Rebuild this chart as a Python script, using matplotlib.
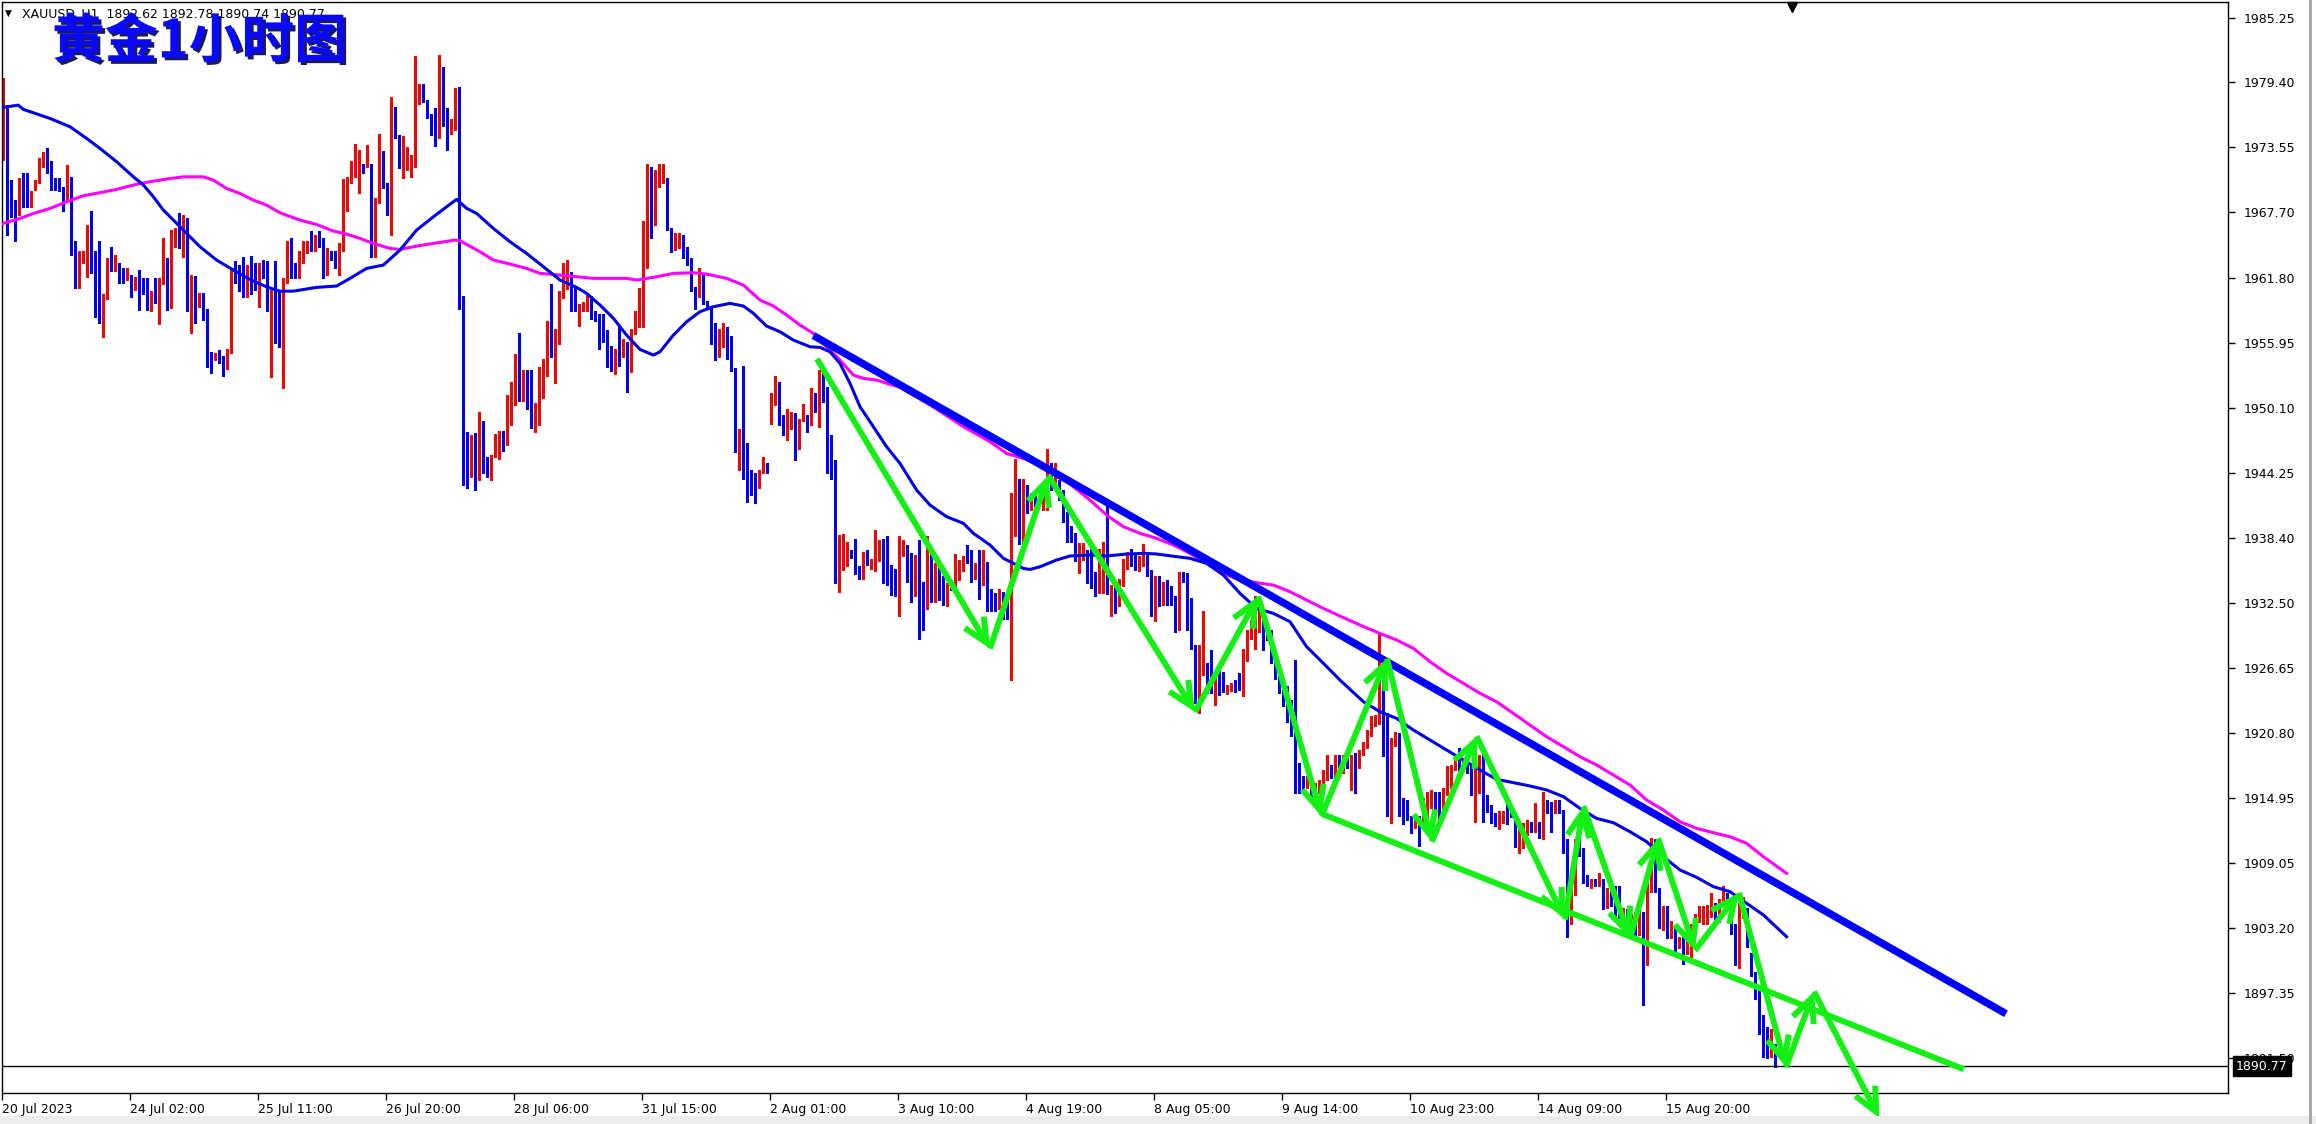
import matplotlib
matplotlib.use("Agg")
import matplotlib.pyplot as plt
import numpy as np
from matplotlib.patches import FancyArrowPatch, ArrowStyle, Rectangle
import matplotlib.patheffects as pe

# ---------------- data (XAUUSD H1) ----------------
opens = [
1972.6,1977.1,1970.3,1968.7,1967.6,1970.3,1969.4,1968.4,1969.7,1970.4,
1972.0,1972.8,1972.0,1970.7,1970.0,1969.7,1969.0,1970.4,1964.9,1961.2,
1963.4,1963.6,1965.4,1962.9,1961.2,1959.5,1960.0,1963.3,1962.5,1962.9,
1962.3,1961.7,1961.8,1960.9,1961.5,1961.2,1960.4,1959.9,1960.3,1959.7,
1961.3,1963.0,1959.2,1965.1,1965.3,1964.8,1967.2,1959.2,1961.2,1959.4,
1959.6,1958.9,1954.7,1954.5,1954.9,1954.8,1954.2,1955.1,1962.5,1962.1,
1961.4,1960.3,1962.4,1962.0,1960.9,1962.7,1961.9,1958.9,1960.6,1960.6,
1956.6,1961.5,1964.1,1962.1,1961.9,1963.3,1964.1,1964.8,1964.3,1965.1,
1964.7,1963.5,1963.8,1963.7,1962.9,1964.2,1969.3,1970.3,1970.9,1971.2,
1971.8,1971.8,1972.0,1966.4,1968.7,1972.1,1970.2,1969.2,1977.1,1974.5,
1971.5,1971.7,1971.8,1972.0,1977.6,1978.9,1977.8,1976.5,1975.4,1974.5,
1979.7,1975.7,1975.1,1975.9,1978.8,1960.0,1945.4,1944.7,1947.0,1944.3,
1948.8,1945.5,1944.4,1946.6,1946.9,1947.6,1947.0,1950.9,1952.1,1954.2,
1951.8,1952.7,1951.3,1949.6,1949.6,1951.9,1953.0,1956.6,1955.6,1955.9,
1960.1,1960.9,1961.3,1959.6,1958.9,1959.0,1958.8,1960.0,1958.2,1958.2,
1956.7,1956.7,1954.7,1954.4,1955.1,1954.8,1955.8,1953.4,1956.8,1958.3,
1959.0,1965.3,1971.4,1967.1,1970.4,1970.6,1970.7,1966.3,1964.4,1965.4,
1965.6,1963.8,1963.3,1960.9,1960.5,1962.1,1959.5,1959.0,1957.6,1955.4,
1955.7,1956.9,1956.0,1953.6,1946.9,1948.7,1946.7,1944.4,1943.4,1943.0,
1944.3,1944.6,1949.9,1951.2,1952.3,1949.4,1947.5,1948.4,1949.4,1946.5,
1949.0,1949.3,1948.5,1950.7,1949.6,1953.2,1950.9,1945.7,1945.2,1935.8,
1935.8,1935.9,1936.9,1936.8,1935.6,1934.8,1936.6,1935.8,1935.8,1936.4,
1937.6,1937.6,1935.4,1935.4,1933.7,1936.7,1937.6,1935.9,1934.1,1934.9,
1932.8,1932.1,1934.7,1932.8,1935.5,1934.6,1933.0,1934.0,1934.0,1935.2,
1935.5,1936.5,1936.4,1934.9,1935.2,1934.2,1936.1,1932.8,1932.7,1932.2,
1933.4,1933.1,1932.0,1938.6,1943.1,1938.6,1942.4,1941.5,1941.9,1941.2,
1941.0,1941.0,1943.9,1942.9,1943.4,1942.7,1940.6,1939.1,1938.6,1936.4,
1936.6,1937.0,1936.1,1935.2,1934.9,1935.9,1937.8,1933.4,1934.0,1932.3,
1934.1,1935.8,1936.7,1936.4,1935.9,1935.9,1936.7,1935.5,1931.3,1934.8,
1932.8,1934.3,1933.8,1932.9,1930.1,1934.8,1934.7,1930.5,1928.6,1925.1,
1926.2,1927.0,1925.9,1925.3,1925.4,1925.1,1924.4,1924.8,1925.4,1925.4,
1924.8,1927.4,1929.4,1930.1,1930.1,1931.7,1930.1,1929.8,1928.0,1925.9,
1925.0,1924.7,1922.0,1920.8,1917.2,1916.6,1916.0,1916.3,1915.2,1915.7,
1916.3,1916.7,1917.8,1916.9,1917.8,1917.3,1918.5,1916.6,1918.2,1917.8,
1919.0,1919.6,1920.5,1921.5,1921.7,1925.9,1922.4,1914.8,1919.9,1920.3,
1914.8,1914.8,1913.1,1912.4,1913.1,1912.4,1914.3,1914.2,1914.5,1913.6,
1913.3,1915.4,1916.0,1917.6,1918.8,1918.1,1917.8,1917.6,1915.8,1917.6,
1919.0,1914.2,1914.2,1913.3,1913.1,1913.3,1913.7,1913.6,1913.3,1910.7,
1911.2,1911.7,1912.5,1912.1,1912.7,1911.8,1914.3,1914.2,1913.7,1914.3,
1913.7,1910.3,1904.7,1906.4,1911.2,1910.3,1907.7,1907.1,1907.4,1907.1,
1907.4,1905.2,1907.0,1906.4,1904.9,1902.7,1904.5,1903.0,1903.3,1902.7,
1904.5,1903.3,1906.7,1910.0,1906.7,1903.3,1904.2,1902.4,1903.3,1901.5,
1902.1,1901.1,1902.6,1903.3,1903.9,1903.8,1903.8,1904.4,1904.9,1903.9,
1905.5,1906.1,1905.2,1903.3,1900.6,1904.2,1904.5,1900.3,1899.1,1897.3,
1895.2,1893.4,1892.5,1892.62]

highs = [
1979.8,1977.4,1970.6,1968.8,1970.8,1971.2,1971.2,1969.6,1970.6,1972.6,
1973.1,1973.5,1972.3,1970.8,1970.8,1970.0,1972.0,1970.9,1965.1,1964.2,
1964.2,1966.6,1967.8,1964.2,1965.1,1960.3,1963.6,1964.6,1963.9,1963.1,
1962.7,1962.7,1962.1,1961.9,1962.5,1961.8,1961.8,1960.6,1961.8,1961.8,
1965.4,1963.6,1966.1,1966.3,1967.6,1967.5,1967.2,1962.1,1962.0,1960.4,
1960.4,1959.0,1955.1,1955.0,1955.3,1954.8,1955.4,1962.7,1963.3,1963.0,
1963.7,1963.0,1963.8,1963.1,1963.1,1963.4,1963.3,1960.7,1963.3,1960.7,
1961.8,1965.1,1965.4,1963.1,1964.2,1965.1,1965.1,1966.0,1965.7,1966.0,
1965.4,1964.5,1964.2,1964.2,1964.9,1970.7,1970.9,1972.3,1973.9,1973.3,
1972.1,1973.8,1972.1,1969.0,1974.8,1973.2,1970.3,1978.1,1977.2,1974.7,
1974.6,1973.6,1972.9,1981.8,1979.3,1979.3,1977.8,1976.6,1977.1,1981.9,
1980.8,1977.1,1976.1,1978.9,1979.0,1960.2,1947.9,1947.6,1947.8,1949.7,
1948.9,1945.7,1945.8,1947.7,1948.0,1948.0,1951.2,1952.4,1954.9,1956.8,
1953.5,1953.5,1953.5,1950.5,1953.8,1954.5,1957.9,1961.2,1957.2,1960.6,
1963.1,1963.4,1962.3,1960.9,1959.4,1959.6,1960.4,1960.2,1958.8,1958.5,
1958.5,1957.1,1955.7,1955.4,1957.4,1956.3,1956.0,1957.2,1958.8,1960.9,
1966.9,1972.1,1971.8,1971.5,1972.1,1972.1,1970.8,1966.3,1965.8,1965.8,
1965.7,1964.6,1963.6,1961.0,1962.7,1962.1,1959.7,1959.1,1957.7,1957.2,
1957.7,1957.4,1956.6,1953.7,1948.2,1953.9,1946.9,1944.5,1944.2,1944.5,
1945.7,1945.1,1951.4,1953.0,1952.4,1949.4,1950.0,1949.7,1949.6,1949.1,
1950.4,1949.4,1951.9,1951.4,1953.5,1953.5,1952.0,1947.6,1945.4,1938.6,
1938.7,1938.0,1937.3,1938.3,1935.8,1937.1,1937.3,1936.5,1939.1,1938.2,
1938.3,1938.5,1935.9,1935.6,1938.5,1938.2,1937.7,1937.0,1936.8,1938.2,
1934.4,1938.5,1937.3,1936.1,1935.8,1934.9,1934.3,1934.6,1936.9,1936.4,
1936.7,1937.7,1937.3,1936.1,1937.3,1937.3,1936.2,1933.8,1933.4,1933.8,
1933.5,1933.1,1942.4,1945.5,1943.7,1943.7,1943.1,1942.4,1942.1,1942.1,
1942.8,1946.4,1945.1,1945.1,1943.6,1942.7,1940.7,1939.4,1938.8,1937.9,
1937.9,1937.3,1937.7,1935.3,1937.4,1938.0,1941.2,1934.1,1934.1,1934.7,
1936.5,1937.1,1937.4,1937.0,1936.7,1937.8,1936.8,1935.5,1934.9,1934.9,
1934.4,1934.6,1934.0,1933.1,1935.3,1935.3,1935.2,1933.0,1928.7,1928.7,
1931.8,1927.1,1928.3,1926.2,1926.5,1926.3,1925.1,1925.3,1925.6,1926.2,
1928.4,1930.1,1931.0,1933.1,1932.8,1932.0,1930.7,1930.1,1928.1,1926.0,
1925.3,1925.0,1923.8,1927.4,1918.1,1916.9,1916.9,1916.6,1916.3,1916.6,
1917.5,1918.8,1917.9,1918.8,1918.8,1918.8,1918.7,1918.8,1919.0,1919.3,
1920.0,1921.1,1922.3,1922.4,1929.9,1926.8,1922.6,1920.3,1920.9,1920.8,
1914.9,1914.8,1913.3,1913.3,1913.3,1914.9,1915.5,1915.7,1915.5,1915.5,
1915.8,1917.8,1917.9,1918.8,1919.4,1918.4,1917.9,1917.8,1917.8,1918.8,
1919.1,1915.2,1914.3,1913.6,1913.8,1913.8,1914.5,1913.9,1913.4,1912.1,
1912.7,1913.0,1912.8,1914.5,1912.8,1915.5,1914.8,1914.6,1914.8,1914.8,
1913.9,1911.2,1907.0,1911.2,1912.4,1910.4,1908.0,1907.6,1907.6,1908.2,
1907.6,1906.8,1907.3,1907.0,1907.0,1905.0,1904.9,1904.5,1904.7,1904.9,
1904.7,1908.2,1911.3,1911.2,1906.8,1905.2,1905.2,1903.9,1903.5,1902.4,
1902.4,1903.0,1903.6,1904.5,1905.2,1905.2,1905.3,1906.4,1905.5,1905.8,
1907.0,1906.4,1905.5,1903.6,1905.5,1906.0,1905.0,1901.0,1899.3,1897.6,
1895.4,1894.3,1894.1,1892.78]

lows = [
1972.4,1965.7,1967.3,1965.1,1967.5,1968.2,1968.2,1968.2,1969.7,1970.3,
1971.8,1971.2,1969.7,1969.7,1969.6,1967.8,1968.8,1963.9,1960.9,1960.9,
1963.1,1961.9,1962.2,1958.3,1957.7,1956.5,1959.9,1962.4,1962.4,1961.3,
1961.3,1961.6,1960.1,1960.7,1958.9,1960.3,1958.9,1958.8,1959.5,1957.6,
1961.2,1958.9,1959.1,1964.6,1964.5,1963.7,1958.8,1956.8,1957.7,1959.2,
1958.0,1953.8,1953.2,1954.4,1954.1,1953.0,1953.6,1955.0,1961.3,1960.6,
1960.1,1960.1,1960.3,1960.7,1959.2,1961.8,1958.8,1952.9,1955.9,1955.6,
1951.9,1961.3,1961.8,1961.8,1961.8,1963.1,1964.0,1964.2,1964.2,1964.6,
1961.8,1962.1,1963.4,1962.7,1962.1,1964.2,1967.8,1970.3,1970.9,1969.4,
1971.2,1971.8,1963.7,1963.7,1968.5,1969.9,1967.5,1965.7,1974.4,1971.7,
1970.8,1971.5,1970.9,1971.8,1977.5,1977.6,1976.2,1974.7,1973.7,1974.4,
1975.5,1973.3,1974.8,1975.1,1959.0,1943.1,1942.9,1943.9,1942.7,1943.6,
1944.2,1943.9,1943.6,1945.7,1945.5,1946.2,1946.7,1948.5,1950.3,1950.7,
1950.7,1950.0,1948.3,1947.9,1948.5,1951.0,1953.0,1954.7,1952.3,1955.8,
1960.0,1960.8,1958.8,1958.8,1957.5,1958.8,1958.8,1958.1,1957.9,1955.4,
1956.0,1953.8,1953.4,1953.1,1953.9,1954.7,1951.5,1953.3,1956.7,1957.4,
1957.4,1962.7,1965.4,1966.6,1970.0,1970.3,1966.1,1964.1,1964.3,1964.5,
1963.6,1963.0,1960.6,1959.0,1960.1,1959.4,1959.0,1955.8,1954.4,1954.7,
1955.6,1954.5,1953.4,1946.1,1944.5,1943.7,1941.6,1942.2,1941.5,1942.9,
1944.2,1944.2,1948.6,1950.3,1948.5,1947.6,1947.2,1948.2,1945.4,1946.4,
1948.9,1947.9,1948.5,1949.7,1948.4,1950.6,1944.2,1943.7,1934.3,1933.5,
1935.5,1935.8,1936.6,1935.1,1934.7,1934.7,1935.9,1935.6,1935.4,1936.3,
1934.3,1934.1,1933.2,1933.1,1931.3,1936.7,1934.4,1932.6,1933.1,1929.3,
1930.1,1932.0,1932.6,1932.6,1932.8,1932.3,1932.2,1933.7,1933.8,1934.6,
1935.4,1936.1,1934.4,1934.7,1932.9,1934.1,1931.8,1931.8,1931.8,1932.0,
1931.1,1931.1,1925.6,1938.5,1937.8,1937.9,1940.6,1940.9,1941.2,1941.2,
1940.9,1940.9,1942.7,1942.8,1941.8,1939.8,1938.0,1938.0,1936.3,1935.2,
1936.4,1934.3,1933.9,1933.1,1933.4,1933.4,1933.3,1931.3,1931.6,1932.2,
1934.0,1935.6,1935.8,1935.5,1935.4,1935.8,1934.9,1931.3,1930.9,1932.2,
1932.3,1932.3,1932.3,1929.9,1930.1,1934.4,1930.1,1928.4,1923.5,1922.6,
1926.0,1924.4,1924.4,1923.3,1924.2,1924.5,1924.3,1924.6,1924.5,1924.7,
1924.1,1927.3,1929.3,1928.4,1929.9,1928.3,1929.2,1927.1,1925.7,1924.4,
1923.2,1921.8,1920.5,1915.4,1915.4,1915.4,1915.8,1914.9,1914.8,1915.4,
1916.0,1916.6,1916.7,1916.6,1917.2,1917.2,1917.6,1915.7,1915.4,1917.6,
1918.8,1919.4,1920.5,1921.4,1921.6,1918.7,1913.3,1912.7,1919.6,1913.3,
1912.6,1913.0,1911.8,1912.2,1910.6,1912.2,1911.8,1914.0,1913.4,1912.4,
1913.1,1915.2,1915.8,1917.5,1916.7,1917.6,1917.2,1915.2,1912.8,1915.4,
1912.8,1913.7,1912.7,1912.4,1912.1,1912.7,1912.6,1913.2,1910.5,1910.0,
1910.4,1911.6,1911.9,1911.9,1911.3,1911.2,1913.6,1911.9,1913.6,1913.6,
1910.0,1902.4,1903.6,1906.2,1909.7,1907.3,1907.0,1906.8,1907.0,1907.0,
1904.9,1905.0,1905.2,1904.2,1904.1,1902.6,1902.4,1902.7,1902.4,1902.6,
1896.3,1899.9,1906.5,1906.5,1903.2,1903.0,1902.3,1902.3,1901.1,1901.4,
1900.0,1900.9,1900.6,1903.2,1903.8,1903.6,1903.6,1904.2,1903.9,1903.8,
1905.3,1905.0,1902.7,1899.9,1899.6,1904.1,1901.5,1898.9,1896.8,1893.7,
1891.6,1891.5,1891.6,1890.74]

closes = [
1975.7,1970.2,1968.4,1967.6,1970.3,1969.4,1968.4,1969.2,1970.5,1972.0,
1972.7,1972.0,1970.6,1970.0,1969.7,1969.0,1970.4,1964.0,1961.2,1963.7,
1963.8,1965.4,1962.8,1961.3,1959.5,1960.1,1963.3,1962.5,1963.0,1962.2,
1961.7,1961.8,1961.0,1961.5,1961.2,1960.4,1959.9,1960.4,1959.8,1961.5,
1963.0,1959.2,1965.1,1965.2,1964.7,1967.2,1959.2,1961.2,1959.4,1959.6,
1958.6,1954.5,1954.0,1954.8,1954.7,1954.1,1955.1,1962.5,1961.9,1960.7,
1960.3,1962.4,1961.3,1960.9,1962.7,1961.9,1958.9,1960.6,1959.2,1956.6,
1961.6,1964.1,1962.1,1961.9,1963.4,1964.2,1964.8,1964.2,1965.1,1964.8,
1963.6,1963.9,1963.6,1962.9,1964.8,1969.3,1970.5,1971.8,1971.8,1971.5,
1971.4,1972.0,1966.4,1968.7,1972.1,1970.0,1969.3,1977.0,1974.5,1971.8,
1973.3,1973.3,1972.7,1977.6,1979.0,1977.7,1976.4,1975.4,1974.7,1979.7,
1975.6,1975.1,1976.0,1978.8,1960.0,1944.9,1944.7,1947.0,1944.3,1948.8,
1945.5,1944.4,1945.7,1947.0,1947.6,1947.0,1951.1,1952.1,1954.2,1951.8,
1952.7,1951.5,1949.7,1949.7,1951.9,1953.1,1956.6,1955.6,1955.9,1960.2,
1960.9,1961.2,1959.5,1958.9,1959.1,1959.1,1960.1,1958.2,1958.0,1956.8,
1956.6,1954.6,1954.4,1955.1,1954.8,1954.9,1953.5,1956.8,1958.4,1959.1,
1965.4,1971.2,1967.1,1971.3,1970.7,1970.7,1966.2,1964.3,1965.4,1965.4,
1963.7,1963.3,1960.8,1960.5,1961.9,1959.6,1959.1,1957.6,1955.4,1956.9,
1956.9,1954.5,1953.5,1946.9,1948.2,1946.7,1944.3,1943.2,1943.0,1944.4,
1944.5,1944.2,1951.2,1952.2,1949.4,1947.7,1948.5,1949.5,1946.5,1949.1,
1949.3,1948.5,1950.0,1949.9,1952.7,1950.7,1945.7,1945.1,1936.2,1935.9,
1936.8,1936.9,1936.7,1935.5,1935.1,1936.7,1936.2,1936.3,1937.1,1937.6,
1936.5,1934.3,1934.2,1933.7,1937.3,1937.6,1935.9,1934.1,1934.9,1932.6,
1932.0,1934.7,1932.8,1935.5,1934.6,1933.0,1934.2,1933.8,1935.2,1935.6,
1936.5,1936.2,1934.9,1935.1,1934.2,1936.1,1932.8,1932.6,1932.2,1933.4,
1932.5,1932.0,1938.8,1943.1,1938.6,1942.5,1941.5,1941.9,1941.3,1941.8,
1941.9,1944.0,1942.8,1943.6,1942.7,1940.6,1939.1,1938.5,1936.4,1937.0,
1936.9,1935.9,1934.0,1934.0,1935.9,1937.8,1933.4,1933.9,1932.2,1934.1,
1935.8,1936.7,1936.6,1936.2,1936.1,1936.7,1935.5,1931.3,1934.8,1932.8,
1934.3,1933.7,1932.9,1930.1,1934.9,1934.6,1930.2,1928.6,1925.1,1926.2,
1926.9,1925.7,1925.3,1925.4,1925.0,1924.7,1925.0,1925.0,1924.9,1924.8,
1927.5,1929.5,1930.1,1930.4,1931.1,1930.1,1929.8,1928.0,1925.9,1925.0,
1924.7,1922.0,1920.8,1917.2,1916.6,1916.0,1916.3,1915.2,1915.7,1916.3,
1916.7,1917.8,1916.9,1917.8,1917.3,1918.5,1917.8,1917.8,1917.8,1919.0,
1919.7,1920.6,1921.5,1921.7,1925.9,1922.4,1914.8,1919.9,1920.3,1913.4,
1912.7,1913.1,1911.9,1913.0,1912.4,1914.5,1915.4,1915.4,1913.6,1912.5,
1915.5,1916.1,1917.8,1918.7,1918.4,1917.8,1917.3,1915.8,1917.6,1918.5,
1913.9,1913.8,1913.0,1912.8,1913.6,1913.7,1912.7,1913.3,1910.7,1911.3,
1911.8,1912.4,1912.1,1912.7,1911.8,1914.2,1914.0,1913.7,1914.3,1913.7,
1910.1,1904.7,1906.4,1910.3,1910.3,1907.7,1907.3,1907.3,1907.1,1907.6,
1905.2,1906.1,1905.5,1904.9,1904.4,1904.7,1902.7,1903.3,1902.7,1904.5,
1903.0,1906.8,1910.6,1906.7,1903.3,1904.2,1902.4,1903.5,1901.5,1902.1,
1901.1,1902.7,1903.3,1904.2,1904.5,1904.9,1905.0,1905.2,1904.2,1905.5,
1906.1,1905.2,1903.0,1900.6,1904.2,1905.2,1901.8,1899.1,1897.0,1894.8,
1891.8,1891.8,1893.5,1890.77]

# moving averages (bar index, price)
ma_fast_x = [0,3.8,5.1,7.6,11.75,16.75,20.9,24.25,28.4,32.6,35.1,37.6,40.1,42.6,45.9,49.25,53.4,57.6,61.75,65.9,
             69.25,72.6,78.4,83.4,86.75,90.9,95.1,99.25,103.4,107.6,110.9,113.4,115.9,118.4,122.6,126.75,130.9,135.1,
             139.25,143.4,145.9,149.25,152.6,155.9,159.25,162.6,164.25,167.6,170.9,174.25,177.6,181.75,185.1,187.6,
             190.9,194.25,197.6,201.75,204.25,206.75,209.25,211.75,214.25,217.6,220.9,224.25,228.4,231.75,235.9,
             240.1,242.6,246.75,250.1,252.6,255.1,256.75,259.25,263.4,266.75,271.75,275.9,280.1,285.1,288.4,293.4,
             296.75,300.9,305.1,309.25,313.4,317.6,321.75,325.9,330.1,334.25,340.1,344.25,348.4,352.6,356.75,360.9,
             365.1,369.25,373.4,377.6,381.75,385.9,390.1,394.25,398.4,402.6,406.75,410.9,415.1,419.25,423.4,427.6,
             431.75,435.9,440.1,445.9]
ma_fast_y = [1977.15,1977.36,1976.97,1976.67,1976.16,1975.41,1974.36,1973.46,1972.26,1970.9,1970.16,1969.1,1967.9,
             1967.0,1965.8,1964.6,1963.4,1962.5,1961.66,1960.99,1960.6,1960.6,1960.94,1961.06,1961.75,1962.65,1962.95,
             1964.3,1966.1,1967.3,1968.2,1968.87,1968.06,1967.6,1966.25,1965.05,1964.0,1962.8,1961.6,1960.94,1960.4,
             1959.35,1958.15,1956.64,1955.35,1954.84,1955.14,1956.64,1957.84,1958.75,1959.2,1959.5,1959.26,1958.6,
             1957.45,1956.94,1956.19,1955.59,1955.53,1955.14,1954.09,1952.29,1950.19,1948.38,1946.58,1945.08,1942.68,
             1941.33,1940.28,1939.68,1938.78,1937.73,1936.53,1936.08,1935.62,1935.53,1935.77,1936.38,1936.74,1936.83,
             1936.74,1936.89,1936.98,1936.92,1936.68,1936.53,1936.08,1935.02,1933.37,1932.02,1931.57,1930.82,1928.57,
             1927.07,1925.56,1923.61,1922.71,1922.11,1921.06,1920.16,1919.26,1918.36,1917.46,1916.62,1916.32,1916.02,
             1915.66,1915.06,1914.0,1913.1,1912.71,1911.9,1911.0,1909.65,1908.45,1907.79,1906.95,1906.5,1905.45,
             1904.4,1902.44]
ma_slow_x = [0,4.25,7.6,11.75,15.9,20.1,24.25,28.4,32.6,36.75,40.9,45.1,50.1,52.6,55.9,59.25,62.6,65.9,69.25,74.25,
             78.4,82.6,85.9,89.25,92.6,96.75,99.25,103.4,107.6,113.0,114.25,119.25,122.6,126.75,130.9,134.25,139.25,
             143.4,147.6,155.9,158.4,162.6,167.6,172.6,175.9,180.9,185.1,189.25,192.6,195.9,199.25,202.6,205.9,
             209.25,212.6,215.1,218.4,224.25,232,240.1,246.75,250.9,255.1,259.25,261.75,263.4,267.6,271.75,275.9,
             280.1,284.25,288.4,292.6,296.75,300.9,305.1,309.25,313.4,317.6,321.75,325.9,330.1,334.25,340,344,
             348.4,352.6,356.75,360.9,365.1,369.25,373.4,377.6,381.75,385.9,390.1,394.25,398.4,402.6,406.75,410.9,
             415.1,419.25,423.4,427.6,431.75,435.9,440.1,445.9]
ma_slow_y = [1966.7,1967.15,1967.6,1968.05,1968.65,1969.2,1969.47,1969.77,1970.16,1970.46,1970.7,1970.9,1970.9,
             1970.6,1969.85,1969.4,1968.8,1968.35,1967.66,1967.0,1966.61,1966.01,1965.74,1965.35,1964.9,1964.45,
             1964.36,1964.66,1964.9,1965.2,1965.14,1964.15,1963.4,1963.04,1962.65,1962.2,1962.05,1961.9,1961.75,
             1961.75,1961.6,1961.84,1962.2,1962.26,1962.14,1961.75,1961.15,1959.8,1959.26,1958.45,1957.55,1956.79,
             1955.59,1954.39,1953.04,1952.74,1952.59,1951.93,1950.3,1948.39,1947.04,1945.98,1945.53,1944.93,1944.63,
             1944.18,1942.98,1941.78,1940.43,1939.38,1938.78,1938.33,1937.73,1936.98,1936.08,1935.17,1934.57,1934.33,
             1934.12,1933.52,1932.77,1932.02,1931.33,1930.4,1929.8,1929.17,1928.42,1927.22,1926.17,1925.27,1924.37,
             1923.61,1922.56,1921.51,1920.46,1919.56,1918.66,1917.91,1917.01,1916.11,1914.76,1913.85,1912.8,1912.2,
             1911.81,1911.45,1910.85,1909.65,1908.15]

# hand-drawn analysis lines (bar index, price)
resist_x = [202.6, 500.75]
resist_y = [1956.6, 1895.5]
support_x = [329.75, 490.2]
support_y = [1913.5, 1890.5]
zig_x = [203.5, 246.75, 261.3, 298.0, 313.8, 329.6, 346.0, 357.2, 368.4, 390.5, 395.1,
         406.75, 413.8, 423.0, 434.0, 445.75, 452.75, 469.1]
zig_y = [1954.5, 1928.4, 1944.0, 1922.7, 1933.1, 1913.3, 1927.5, 1911.0, 1920.5, 1904.0, 1914.2,
         1902.3, 1911.3, 1901.2, 1906.4, 1890.7, 1897.5, 1886.1]

date_labels = ["20 Jul 2023", "24 Jul 02:00", "25 Jul 11:00", "26 Jul 20:00", "28 Jul 06:00",
               "31 Jul 15:00", "2 Aug 01:00", "3 Aug 10:00", "4 Aug 19:00", "8 Aug 05:00",
               "9 Aug 14:00", "10 Aug 23:00", "14 Aug 09:00", "15 Aug 20:00"]
price_ticks = [1985.25, 1979.40, 1973.55, 1967.70, 1961.80, 1955.95, 1950.10, 1944.25, 1938.40,
               1932.50, 1926.65, 1920.80, 1914.95, 1909.05, 1903.20, 1897.35, 1891.50]
last_price = 1890.77
header = "XAUUSD_H1  1892.62 1892.78 1890.74 1890.77"
title = "黄金1小时图"

# ---------------- drawing ----------------
W, H = 2316, 1124
fig = plt.figure(figsize=(W / 100, H / 100), dpi=100)
fig.patch.set_facecolor("white")
ax = fig.add_axes([2 / W, 1 - 1093 / H, (2228 - 2) / W, (1093 - 2) / H])

n = min(len(opens), len(highs), len(lows), len(closes))
o = np.array(opens[:n]); h = np.array(highs[:n]); l = np.array(lows[:n]); c = np.array(closes[:n])
idx = np.arange(n)
up = c >= o
cols = np.where(up, "#FF0000", "#0000FF")

ax.vlines(idx, l, h, colors=cols, linewidth=0.8, zorder=2, antialiased=False)
bb = np.minimum(o, c)
bh = np.maximum(np.abs(c - o), 0.09)
ax.bar(idx, bh, bottom=bb, width=0.75, color=cols, linewidth=0, zorder=2, antialiased=False)

ax.plot(ma_slow_x, ma_slow_y, color="#FF00FF", lw=2.2, zorder=3)
ax.plot(ma_fast_x, ma_fast_y, color="#0000F0", lw=2.2, zorder=3)

ax.axhline(last_price, color="black", lw=1.0, zorder=3)

ax.plot(resist_x, resist_y, color="#0000FF", lw=5.4, solid_capstyle="butt", zorder=4, clip_on=False)
green = "#14F014"
ax.plot(support_x, support_y, color=green, lw=4.3, solid_capstyle="butt", zorder=5, clip_on=False)
for i in range(len(zig_x) - 1):
    arr = FancyArrowPatch((zig_x[i], zig_y[i]), (zig_x[i + 1], zig_y[i + 1]),
                          arrowstyle=ArrowStyle("->", head_length=17, head_width=8),
                          mutation_scale=1, color=green, lw=4.3, shrinkA=0, shrinkB=0,
                          zorder=6, clip_on=False, joinstyle="miter", capstyle="butt")
    ax.add_patch(arr)

ax.set_xlim(-0.25, 556.25)
ax.set_ylim(1888.36, 1986.65)

# chart-shift marker
ax.plot([447.25], [1986.2], marker="v", color="black", markersize=7, clip_on=False, zorder=7)

ax.set_xticks([32 * k - 0.25 for k in range(len(date_labels))])
ax.set_xticklabels(date_labels, ha="left")
ax.yaxis.tick_right()
ax.set_yticks(price_ticks)
ax.set_yticklabels([f"{v:.2f}" for v in price_ticks])
ax.tick_params(axis="x", direction="out", length=5, width=1, labelsize=9, pad=2, colors="black")
ax.tick_params(axis="y", direction="out", length=5, width=1, labelsize=9, pad=6, colors="black")
for s in ax.spines.values():
    s.set_color("black")
    s.set_linewidth(1.0)

# price box for last price
fig.text(2236 / W, 1 - 1066 / H, f"{last_price:.2f}", color="white", fontsize=9, va="center", ha="left",
         bbox=dict(facecolor="black", edgecolor="black", boxstyle="square,pad=0.25"))

# header and title
fig.text(5 / W, 1 - 13 / H, "\u25BC", fontsize=6.5, va="center", ha="left", color="black")
fig.text(22 / W, 1 - 14 / H, header, fontsize=9, va="center", ha="left", color="black")
fig.text(52 / W, 1 - 42 / H, title, fontsize=38, fontweight="bold", color="#0808FF",
         family=["Noto Sans CJK SC", "DejaVu Sans"], va="center", ha="left", zorder=10,
         path_effects=[pe.withSimplePatchShadow(offset=(2, -2), shadow_rgbFace="#000050", alpha=0.9)])

# window chrome
fig.patches.append(Rectangle((0, 0), 1, 8 / H, transform=fig.transFigure, facecolor="#EDEDED",
                             edgecolor="none", zorder=0))
fig.patches.append(Rectangle((2309 / W, 0), 3 / W, 1, transform=fig.transFigure, facecolor="#A8A8A8",
                             edgecolor="none", zorder=0))

fig.savefig("out.png", dpi=100, facecolor="white")
